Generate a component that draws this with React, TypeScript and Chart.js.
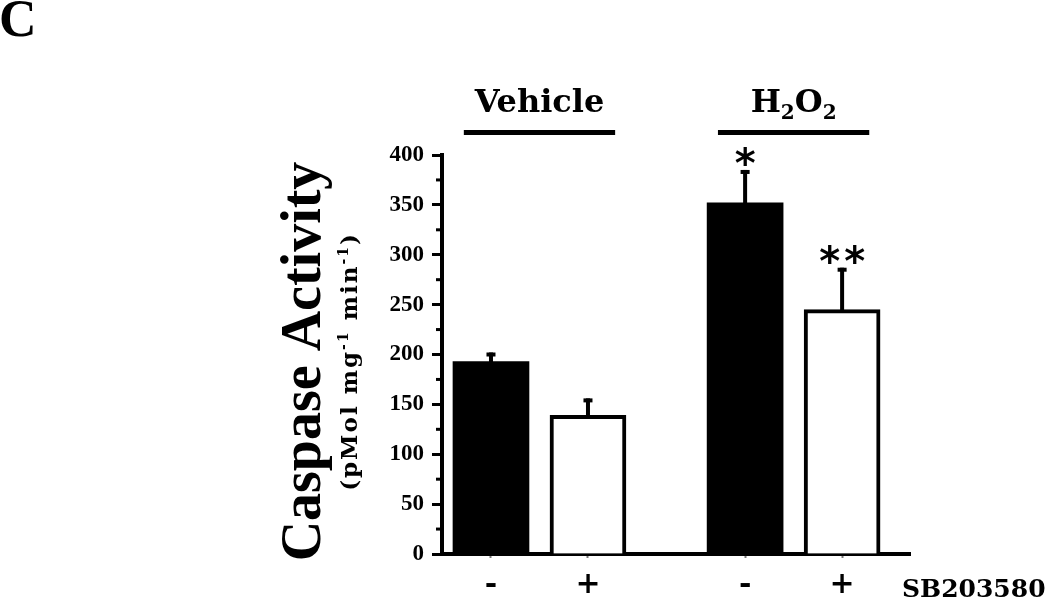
import React, { useEffect, useRef } from 'react';
import { Chart, registerables } from 'chart.js';

Chart.register(...registerables);

// ---- data ----
const panelLetter = 'C';
const groupNames = ['Vehicle', 'H2O2'];
const barGroup = [0, 0, 1, 1];
const sbTreated = [0, 1, 0, 1];
const sbLabels = ['-', '+', '-', '+'];
const means = [193, 139, 352, 245];
const errors = [9, 17, 33, 42];
const significance = ['', '', '*', '**'];
const yMin = 0;
const yMax = 400;
const yStep = 50;
const yMinorTicks = [25, 75, 125, 175, 225, 275, 325, 375];
const yTitle = 'Caspase Activity';
const treatmentName = 'SB203580';

// axis units between the two groups
const groupSpacing = 2.62;
const positions = barGroup.map((g, i) => 1 + sbTreated[i] + g * groupSpacing);

const SERIF = '"Liberation Serif", "Times New Roman", serif';
const DSERIF = '"DejaVu Serif", serif';

type Run = { text: string; size: number; dy?: number };

function drawRuns(ctx: CanvasRenderingContext2D, runs: Run[], cx: number, cy: number, family: string) {
  const widths = runs.map((r) => {
    ctx.font = `bold ${r.size}px ${family}`;
    return ctx.measureText(r.text).width;
  });
  const total = widths.reduce((a, b) => a + b, 0);
  let xx = cx - total / 2;
  ctx.textAlign = 'left';
  runs.forEach((r, i) => {
    ctx.font = `bold ${r.size}px ${family}`;
    ctx.fillText(r.text, xx, cy + (r.dy || 0));
    xx += widths[i];
  });
}

const annotationPlugin = {
  id: 'annotations',
  afterDraw(chart: any) {
    const { ctx, chartArea, scales } = chart;
    const x = scales.x;
    const y = scales.y;
    ctx.save();
    ctx.fillStyle = '#000';
    ctx.strokeStyle = '#000';

    // minor y ticks
    yMinorTicks.forEach((v) => {
      const py = y.getPixelForValue(v);
      ctx.fillRect(chartArea.left - 6, py - 1.5, 5, 3);
    });

    // error bars + significance
    means.forEach((m, i) => {
      const xp = x.getPixelForValue(positions[i]);
      const yb = y.getPixelForValue(m);
      const yt = y.getPixelForValue(m + errors[i]);
      ctx.fillRect(xp - 2, yt, 4, yb - yt + 2);
      ctx.fillRect(xp - 4.5, yt, 9, 4);
      const s = significance[i];
      if (s) {
        ctx.font = 'bold 40px "DejaVu Sans", sans-serif';
        ctx.textAlign = 'center';
        ctx.textBaseline = 'alphabetic';
        const n = s.length;
        for (let k = 0; k < n; k++) {
          const cx = xp + (k - (n - 1) / 2) * 25;
          ctx.fillText('*', cx, yt + 7);
        }
      }
    });

    // group labels with lines
    ctx.textBaseline = 'alphabetic';
    groupNames.forEach((name, g) => {
      const idx = positions.filter((_, i) => barGroup[i] === g);
      const p0 = Math.min(...idx);
      const p1 = Math.max(...idx);
      const x0 = x.getPixelForValue(p0 - 0.28);
      const x1 = x.getPixelForValue(p1 + 0.28);
      const cx = (x.getPixelForValue(p0) + x.getPixelForValue(p1)) / 2;
      ctx.fillRect(x0, chartArea.top - 25, x1 - x0, 5);
      const baseY = chartArea.top - 43;
      if (name === 'H2O2') {
        drawRuns(
          ctx,
          [
            { text: 'H', size: 32 },
            { text: '2', size: 20, dy: 7 },
            { text: 'O', size: 32 },
            { text: '2', size: 20, dy: 7 },
          ],
          cx,
          baseY,
          DSERIF
        );
      } else {
        drawRuns(ctx, [{ text: name, size: 32 }], cx, baseY, DSERIF);
      }
    });

    // treatment label
    ctx.font = `bold 25px ${DSERIF}`;
    ctx.textAlign = 'left';
    ctx.fillText(treatmentName, chartArea.right - 8, chartArea.bottom + 43);

    // y title
    const cyMid = (chartArea.top + chartArea.bottom) / 2 + 7;
    ctx.save();
    ctx.translate(chartArea.left - 122, cyMid);
    ctx.rotate(-Math.PI / 2);
    ctx.font = `bold 56px ${SERIF}`;
    ctx.textAlign = 'center';
    ctx.fillText(yTitle, 0, 0);
    ctx.restore();

    // y subtitle
    ctx.save();
    ctx.translate(chartArea.left - 85, cyMid);
    ctx.rotate(-Math.PI / 2);
    (ctx as any).letterSpacing = '2px';
    drawRuns(
      ctx,
      [
        { text: '(pMol mg', size: 23 },
        { text: '-1', size: 14, dy: -9 },
        { text: ' min', size: 23 },
        { text: '-1', size: 14, dy: -9 },
        { text: ')', size: 23 },
      ],
      0,
      0,
      DSERIF
    );
    ctx.restore();

    // panel letter
    ctx.font = `bold 52px ${SERIF}`;
    ctx.textAlign = 'left';
    ctx.fillText(panelLetter, -1, 36);

    ctx.restore();
  },
};

export default function App() {
  const ref = useRef<HTMLCanvasElement>(null);
  useEffect(() => {
    if (!ref.current) return;
    const chart = new Chart(ref.current, {
      type: 'bar',
      data: {
        datasets: [
          {
            data: means.map((m, i) => ({ x: positions[i], y: m })) as any,
            backgroundColor: sbTreated.map((t) => (t ? '#ffffff' : '#000000')),
            borderColor: '#000000',
            borderWidth: sbTreated.map((t) => (t ? 4 : 0)),
            borderSkipped: 'bottom',
            barThickness: 76,
          },
        ],
      },
      options: {
        responsive: false,
        animation: false,
        events: [],
        layout: { padding: { left: 0, top: 155, right: 140, bottom: 0 } },
        plugins: { legend: { display: false }, tooltip: { enabled: false } },
        scales: {
          x: {
            type: 'linear',
            min: 0.495,
            max: 5.32,
            offset: false,
            border: { display: true, color: '#000', width: 4 },
            grid: {
              display: true,
              offset: false,
              drawOnChartArea: false,
              drawTicks: true,
              tickLength: 4,
              tickColor: '#777',
              tickWidth: 2,
            },
            afterBuildTicks: (scale: any) => {
              scale.ticks = positions.map((v) => ({ value: v }));
            },
            afterFit: (scale: any) => {
              scale.height = 48;
            },
            ticks: {
              autoSkip: false,
              maxRotation: 0,
              padding: 9,
              color: '#000',
              font: { family: DSERIF, size: 30, weight: 'bold' },
              callback: (_v: any, index: number) => sbLabels[index],
            },
          },
          y: {
            type: 'linear',
            min: yMin,
            max: yMax,
            border: { display: true, color: '#000', width: 4 },
            grid: {
              display: true,
              drawOnChartArea: false,
              drawTicks: true,
              tickLength: 10,
              tickColor: '#000',
              tickWidth: 3,
            },
            afterFit: (scale: any) => {
              scale.width = 442;
            },
            ticks: {
              stepSize: yStep,
              padding: 8,
              color: '#000',
              font: { family: SERIF, size: 23, weight: 'bold' },
            },
          },
        },
      },
      plugins: [annotationPlugin],
    } as any);
    return () => chart.destroy();
  }, []);
  return (
    <div style={{ position: 'fixed', left: 0, top: 0, width: 1050, height: 602, background: '#fff' }}>
      <canvas ref={ref} width={1050} height={602} style={{ display: 'block', width: 1050, height: 602 }} />
    </div>
  );
}
